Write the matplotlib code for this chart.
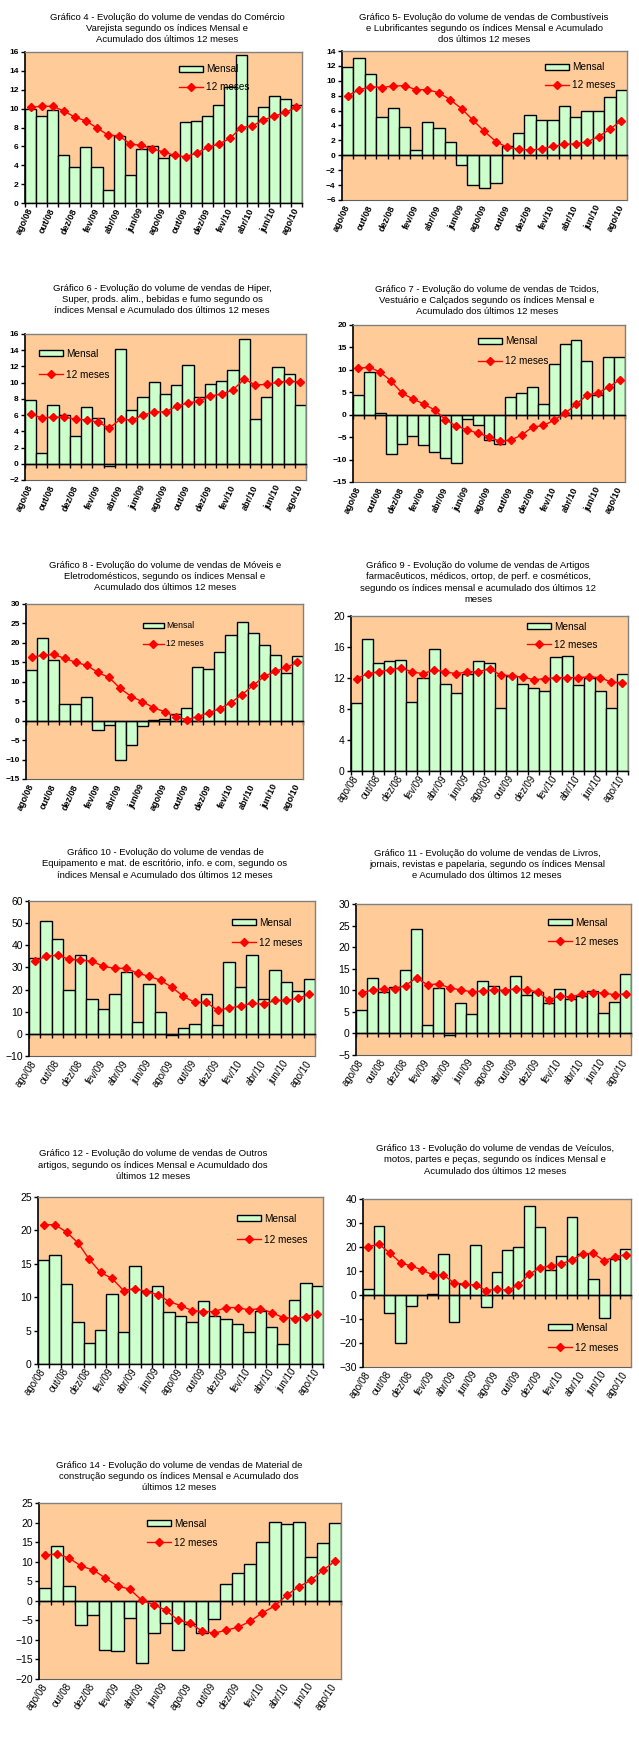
import numpy as np
import matplotlib
matplotlib.use("Agg")
import matplotlib.pyplot as plt

plt.rcParams['font.family'] = ['Liberation Sans', 'DejaVu Sans']

W, H = 639, 1741

meses = ['ago/08', 'set/08', 'out/08', 'nov/08', 'dez/08', 'jan/09', 'fev/09',
         'mar/09', 'abr/09', 'mai/09', 'jun/09', 'jul/09', 'ago/09', 'set/09',
         'out/09', 'nov/09', 'dez/09', 'jan/10', 'fev/10', 'mar/10', 'abr/10',
         'mai/10', 'jun/10', 'jul/10', 'ago/10']
rotulos = meses[::2]

# Gráfico 4 - Comércio varejista
mensal_4 = [10.0, 9.2, 9.85, 5.06, 3.8, 5.95, 3.8, 1.35, 7.1, 2.95, 5.7, 6.0, 4.75,
            5.1, 8.55, 8.7, 9.2, 10.4, 12.3, 15.7, 9.2, 10.15, 11.3, 11.0, 10.4]
acum_4 = [10.15, 10.25, 10.25, 9.75, 9.1, 8.7, 7.95, 7.2, 7.1, 6.25, 6.1, 5.75, 5.4,
          5.05, 4.9, 5.3, 5.9, 6.25, 6.85, 8.0, 8.15, 8.8, 9.2, 9.6, 10.15]

# Gráfico 5 - Combustíveis e lubrificantes
mensal_5 = [11.9, 13.1, 10.95, 5.2, 6.4, 3.85, 0.76, 4.5, 3.6, 1.85, -1.25, -3.95, -4.45,
            -3.75, 1.3, 3.05, 5.45, 4.8, 4.8, 6.65, 5.2, 6.0, 6.0, 7.85, 8.8]
acum_5 = [8.0, 8.8, 9.2, 9.1, 9.3, 9.35, 8.8, 8.8, 8.4, 7.45, 6.25, 4.7, 3.2,
          1.85, 1.05, 0.85, 0.7, 0.85, 1.2, 1.45, 1.55, 1.8, 2.5, 3.5, 4.65]

# Gráfico 6 - Hiper, super, alimentos, bebidas e fumo
mensal_6 = [7.85, 1.3, 7.25, 6.0, 3.45, 7.0, 5.65, -0.25, 14.1, 6.6, 8.2, 10.05, 8.6,
            9.7, 12.15, 8.2, 9.8, 10.2, 11.55, 15.35, 5.5, 8.2, 11.9, 11.05, 7.25]
acum_6 = [6.15, 5.65, 5.75, 5.75, 5.5, 5.4, 5.15, 4.4, 5.5, 5.4, 6.0, 6.4, 6.4,
          7.1, 7.5, 7.75, 8.35, 8.6, 9.1, 10.45, 9.7, 9.8, 10.05, 10.2, 10.05]

# Gráfico 7 - Tecidos, vestuário e calçados
mensal_7 = [4.4, 9.5, 0.35, -8.8, -6.55, -4.75, -6.75, -8.35, -9.65, -10.8, -0.95, -2.4, -5.7,
            -6.55, 3.95, 4.85, 6.15, 2.4, 11.3, 15.75, 16.65, 11.95, 4.4, 12.85, 12.85]
acum_7 = [10.35, 10.6, 9.5, 7.5, 4.85, 3.5, 2.4, 1.05, -1.1, -2.55, -3.35, -4.15, -4.9,
          -5.95, -5.65, -4.55, -2.75, -2.4, -1.2, 0.35, 2.3, 4.4, 4.85, 6.15, 7.75]

# Gráfico 8 - Móveis e eletrodomésticos
mensal_8 = [12.9, 21.2, 15.5, 4.4, 4.4, 6.2, -2.3, -1.0, -10.1, -6.2, -1.3, 0.25, 0.5,
            1.8, 3.35, 13.7, 13.2, 17.6, 22.0, 25.35, 22.5, 19.4, 16.8, 12.15, 16.55]
acum_8 = [16.3, 16.8, 17.05, 16.0, 15.0, 14.2, 12.4, 11.1, 8.3, 6.2, 4.9, 3.35, 2.3,
          1.05, 0.25, 1.05, 2.05, 3.1, 4.65, 6.7, 9.05, 11.4, 12.65, 13.7, 15.0]

# Gráfico 9 - Artigos farmacêuticos, médicos, ortopédicos, perfumaria
mensal_9 = [8.8, 17.05, 14.0, 14.25, 14.35, 8.95, 12.05, 15.8, 11.25, 10.1, 12.55, 14.25, 14.0,
            8.15, 12.3, 11.25, 10.75, 10.35, 14.75, 14.9, 11.15, 12.05, 10.35, 8.15, 12.55]
acum_9 = [11.9, 12.55, 12.8, 13.05, 13.3, 12.8, 12.55, 13.05, 12.8, 12.55, 12.8, 12.8, 13.2,
          12.4, 12.3, 12.1, 11.8, 11.9, 12.05, 12.05, 12.05, 12.15, 12.05, 11.45, 11.4]

# Gráfico 10 - Equipamento e material de escritório, informática e comunicação
mensal_10 = [34.15, 50.9, 42.8, 19.65, 35.5, 15.55, 11.05, 17.85, 27.8, 5.15, 22.35, 9.65, -0.45,
             2.85, 4.25, 17.85, 3.8, 32.35, 21.0, 35.5, 15.55, 28.7, 23.25, 19.2, 24.65]
acum_10 = [32.8, 35.05, 35.5, 33.7, 33.4, 32.8, 30.5, 29.6, 29.6, 27.35, 26.0, 24.2, 21.0,
           16.9, 14.2, 14.2, 10.6, 11.8, 12.4, 13.9, 13.3, 15.1, 15.1, 16.0, 17.85]

# Gráfico 11 - Livros, jornais, revistas e papelaria
mensal_11 = [5.45, 12.9, 9.65, 10.8, 14.75, 24.1, 1.95, 10.55, -0.25, 7.05, 4.5, 12.2, 11.05,
             10.1, 13.35, 8.95, 9.65, 7.05, 10.35, 8.0, 8.7, 9.85, 4.75, 7.3, 13.85]
acum_11 = [9.4, 10.1, 10.35, 10.35, 11.1, 12.9, 11.25, 11.5, 10.55, 10.1, 9.65, 9.8, 10.1,
           9.95, 10.35, 10.1, 9.65, 7.75, 8.7, 8.4, 9.15, 9.4, 9.4, 8.95, 9.15]

# Gráfico 12 - Outros artigos
mensal_12 = [15.5, 16.25, 12.05, 6.35, 3.1, 5.05, 10.55, 4.75, 14.6, 11.0, 11.75, 7.85, 7.25,
             6.35, 9.5, 7.25, 6.8, 6.05, 4.75, 8.0, 5.6, 2.95, 9.65, 12.2, 11.75]
acum_12 = [20.85, 20.85, 19.75, 18.15, 15.65, 13.7, 12.8, 11.0, 11.3, 10.85, 10.4, 9.35, 8.75,
           8.0, 7.85, 7.85, 8.45, 8.45, 8.1, 8.3, 7.7, 6.95, 6.8, 7.1, 7.55]

# Gráfico 13 - Veículos, motos, partes e peças
mensal_13 = [2.5, 28.85, -7.5, -20.05, -4.6, 0.2, 0.4, 17.15, -11.4, 4.6, 20.9, -5.0, 9.6,
             18.8, 20.05, 37.2, 28.45, 10.45, 16.3, 32.6, 17.15, 6.7, -9.6, 15.05, 19.25]
acum_13 = [20.2, 21.05, 17.55, 13.4, 12.1, 10.45, 8.35, 8.35, 5.0, 4.45, 4.2, 1.8, 2.5,
           1.95, 4.2, 8.65, 11.3, 12.1, 12.95, 14.65, 17.15, 17.3, 14.2, 16.0, 16.7]

# Gráfico 14 - Material de construção
mensal_14 = [3.25, 14.0, 3.75, -6.2, -3.65, -12.6, -12.8, -4.45, -15.95, -8.25, -5.7, -12.6, -6.0,
             -8.3, -4.6, 4.25, 7.1, 9.4, 15.0, 20.15, 19.6, 20.1, 11.2, 14.8, 19.85]
acum_14 = [11.7, 11.95, 10.9, 8.85, 7.85, 5.8, 3.75, 3.0, 0.15, -1.0, -2.4, -4.95, -5.7,
           -7.75, -8.3, -7.5, -6.75, -5.2, -3.05, -1.35, 1.4, 3.6, 5.2, 7.8, 10.1]

titulos = {
    4: "Gráfico 4 - Evolução do volume de vendas do Comércio\nVarejista segundo os índices Mensal e\nAcumulado dos últimos 12 meses",
    5: "Gráfico 5- Evolução do volume de vendas de Combustíveis\ne Lubrificantes segundo os índices Mensal e Acumulado\ndos últimos 12 meses",
    6: "Gráfico 6 - Evolução do volume de vendas de Hiper,\nSuper, prods. alim., bebidas e fumo segundo os\níndices Mensal e Acumulado dos últimos 12 meses",
    7: "Gráfico 7 - Evolução do volume de vendas de Tcidos,\nVestuário e Calçados segundo os índices Mensal e\nAcumulado dos últimos 12 meses",
    8: "Gráfico 8 - Evolução do volume de vendas de Móveis e\nEletrodomésticos, segundo os índices Mensal e\nAcumulado dos últimos 12 meses",
    9: "Gráfico 9 - Evolução do volume de vendas de Artigos\nfarmacêuticos, médicos, ortop, de perf. e cosméticos,\nsegundo os índices mensal e acumulado dos últimos 12\nmeses",
    10: "Gráfico 10 - Evolução do volume de vendas de\nEquipamento e mat. de escritório, info. e com, segundo os\níndices Mensal e Acumulado dos últimos 12 meses",
    11: "Gráfico 11 - Evolução do volume de vendas de Livros,\njornais, revistas e papelaria, segundo os índices Mensal\ne Acumulado dos últimos 12 meses",
    12: "Gráfico 12 - Evolução do volume de vendas de Outros\nartigos, segundo os índices Mensal e Acumuldado dos\núltimos 12 meses",
    13: "Gráfico 13 - Evolução do volume de vendas de Veículos,\nmotos, partes e peças, segundo os índices Mensal e\nAcumulado dos últimos 12 meses",
    14: "Gráfico 14 - Evolução do volume de vendas de Material de\nconstrução segundo os índices Mensal e Acumulado dos\núltimos 12 meses",
}

# layout: (mensal, acum, n, box px (l, t, r, b), ylim, step, title (x, y), legend (x, y, row step px),
#          small style?)
paineis = [
    (mensal_4, acum_4, 4, (25, 52, 302, 203), (0, 16), 2, (167, 28.5), (0.556, 0.881, 16), True),
    (mensal_5, acum_5, 5, (342, 51, 627, 200), (-6, 14), 2, (484, 28.5), (0.712, 0.886, 15.5), True),
    (mensal_6, acum_6, 6, (25, 334, 306, 480), (-2, 16), 2, (162, 299.5), (0.05, 0.863, 19), True),
    (mensal_7, acum_7, 7, (353, 325, 625, 482), (-15, 20), 5, (487, 300.5), (0.46, 0.892, 18), True),
    (mensal_8, acum_8, 8, (26, 604, 303, 779), (-15, 30), 5, (165, 576.5), (0.422, 0.874, 16), True),
    (mensal_9, acum_9, 9, (351, 616, 628, 771), (0, 20), 4, (478, 582.5), (0.635, 0.929, 16), False),
    (mensal_10, acum_10, 10, (29, 901, 315, 1056), (-10, 60), 10, (165, 864), (0.71, 0.858, 18), False),
    (mensal_11, acum_11, 11, (356, 904, 631, 1055), (-5, 30), 5, (487, 864.5), (0.698, 0.874, 17), False),
    (mensal_12, acum_12, 12, (38, 1197, 323, 1364), (0, 25), 5, (153, 1165), (0.698, 0.868, 19), False),
    (mensal_13, acum_13, 13, (363, 1199, 631, 1367), (-30, 40), 10, (495, 1160), (0.69, 0.232, 18), False),
    (mensal_14, acum_14, 14, (39, 1503, 341, 1679), (-20, 25), 5, (179, 1476.5), (0.358, 0.88, 17), False),
]

fig = plt.figure(figsize=(W / 100, H / 100), dpi=100)

for mensal, acum, n, box, ylim, step, tpos, legpos, pequeno in paineis:
    l, t, r, b = box
    ax = fig.add_axes([l / W, 1 - b / H, (r - l) / W, (b - t) / H])
    ax.set_facecolor('#FFCC99')
    x = np.arange(len(meses))
    barras = ax.bar(x, mensal, width=1.0, color='#CCFFCC', edgecolor='black', linewidth=1.0,
                    label='Mensal', zorder=2)
    linha, = ax.plot(x, acum, color='#FF0000', lw=1.0, marker='D', ms=3.6, label='12 meses', zorder=3)
    ax.set_xlim(-0.5, len(meses) - 0.5)
    ax.set_ylim(*ylim)
    ax.set_yticks(np.arange(ylim[0], ylim[1] + step / 2, step))

    # category axis crossing at zero, ticks between the bars
    ax.spines['bottom'].set_position(('data', 0))
    ax.spines['bottom'].set_linewidth(1.0)
    ax.set_xticks(np.arange(-0.5, len(meses), 1))
    ax.tick_params(axis='x', direction='out', length=3, width=1, labelbottom=False)
    ax.spines['left'].set_linewidth(1.2)
    for s in ('top', 'right'):
        ax.spines[s].set_color('#808080')
        ax.spines[s].set_linewidth(1.0)

    if pequeno:
        yfs, xfs, wt, rot = 6, 6.5, 'bold', 65
    else:
        yfs, xfs, wt, rot = 7.5, 7, 'normal', 55
    ax.tick_params(axis='y', direction='out', length=3, width=1, labelsize=yfs, pad=1.5)
    for lab in ax.get_yticklabels():
        lab.set_fontweight(wt)

    sec = ax.secondary_xaxis('bottom')
    sec.set_xticks(x[::2], rotulos, rotation=rot, ha='right', va='center',
                   rotation_mode='anchor', fontsize=xfs, fontweight=wt)
    sec.tick_params(length=0, pad=4)
    sec.spines['bottom'].set_color('#606060')

    # legend without frame, Mensal first
    lx, ly, lstep = legpos
    fs = 7.2 if n != 8 else 6.2
    fs_px = fs * 100 / 72
    ah = b - t
    ax.legend([barras, linha], ['Mensal', '12 meses'],
              loc='upper left', bbox_to_anchor=(lx, ly + 0.55 * fs_px / ah),
              frameon=False, fontsize=fs, handlelength=2.4, handleheight=0.6,
              handletextpad=0.3, borderpad=0, borderaxespad=0,
              labelspacing=max(0.2, (lstep - 0.8 * fs_px) / fs_px))

    fig.text(tpos[0] / W, 1 - tpos[1] / H, titulos[n], ha='center', va='center',
             multialignment='center', fontsize=6.8, linespacing=1.3)

fig.savefig('out.png', dpi=100, facecolor='white')
